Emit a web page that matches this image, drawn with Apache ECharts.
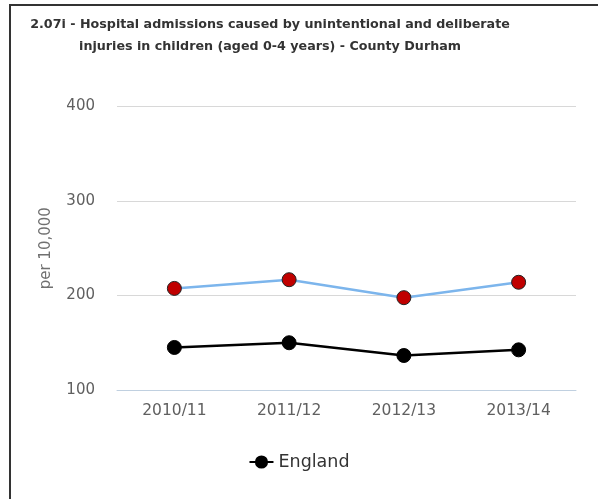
<!DOCTYPE html>
<html>
<head>
<meta charset="utf-8">
<script src="https://cdn.jsdelivr.net/npm/echarts@6/dist/echarts.min.js"></script>
<style>
html,body{margin:0;padding:0;background:#fff;overflow:hidden;}
#chart{position:absolute;left:0;top:0;width:598px;height:499px;}
#frame{position:absolute;left:9px;top:4px;width:700px;height:700px;border-left:2px solid #333;border-top:2px solid #333;pointer-events:none;}
</style>
</head>
<body>
<div id="chart"></div>
<div id="frame"></div>
<script>
const titleLines = ["2.07i - Hospital admissions caused by unintentional and deliberate", "injuries in children (aged 0-4 years) - County Durham"];
const categories = ["2010/11", "2011/12", "2012/13", "2013/14"];
const durhamValues = [207.5, 216.7, 197.7, 214.0];
const englandValues = [145.0, 150.0, 136.5, 142.5];
const yTicks = [100, 200, 300, 400];

const chart = echarts.init(document.getElementById('chart'), null, {renderer: 'canvas'});
chart.setOption({
  animation: false,
  backgroundColor: '#fff',
  title: {
    text: titleLines.join('\n'),
    left: 265,
    top: 9,
    textAlign: 'center',
    textStyle: {fontFamily: 'DejaVu Sans', fontWeight: 'bold', fontSize: 12.7, color: '#333', lineHeight: 22, align: 'center'}
  },
  grid: {left: 117, right: 22, top: 106.5, bottom: 109, containLabel: false},
  legend: {
    data: ['England'],
    bottom: 23,
    left: 'center',
    itemWidth: 24,
    itemHeight: 14,
    textStyle: {fontFamily: 'DejaVu Sans', fontSize: 17.5, color: '#333'},
    selectedMode: false
  },
  xAxis: {
    type: 'category',
    data: categories,
    boundaryGap: true,
    axisLine: {lineStyle: {color: '#c0d0e0', width: 1}},
    axisTick: {alignWithLabel: true, length: 5, lineStyle: {color: '#c0d0e0'}},
    axisLabel: {fontFamily: 'DejaVu Sans', fontSize: 15.5, color: '#606060', margin: 13}
  },
  yAxis: {
    type: 'value',
    min: yTicks[0],
    max: yTicks[yTicks.length - 1],
    interval: 100,
    name: 'per 10,000',
    nameLocation: 'middle',
    nameGap: 63,
    nameTextStyle: {fontFamily: 'DejaVu Sans', fontSize: 15, color: '#707070'},
    axisLine: {show: false},
    axisTick: {show: false},
    axisLabel: {fontFamily: 'DejaVu Sans', fontSize: 15, color: '#606060', margin: 22},
    splitLine: {lineStyle: {color: '#d8d8d8', width: 1}}
  },
  series: [
    {
      name: 'County Durham',
      type: 'line',
      data: durhamValues,
      symbol: 'circle',
      symbolSize: 14,
      lineStyle: {color: '#7cb5ec', width: 2.5},
      itemStyle: {color: '#c00000', borderColor: '#222', borderWidth: 1}
    },
    {
      name: 'England',
      type: 'line',
      data: englandValues,
      symbol: 'circle',
      symbolSize: 14,
      lineStyle: {color: '#000', width: 2.5},
      itemStyle: {color: '#000', borderColor: '#000', borderWidth: 1}
    }
  ]
});
</script>
</body>
</html>
